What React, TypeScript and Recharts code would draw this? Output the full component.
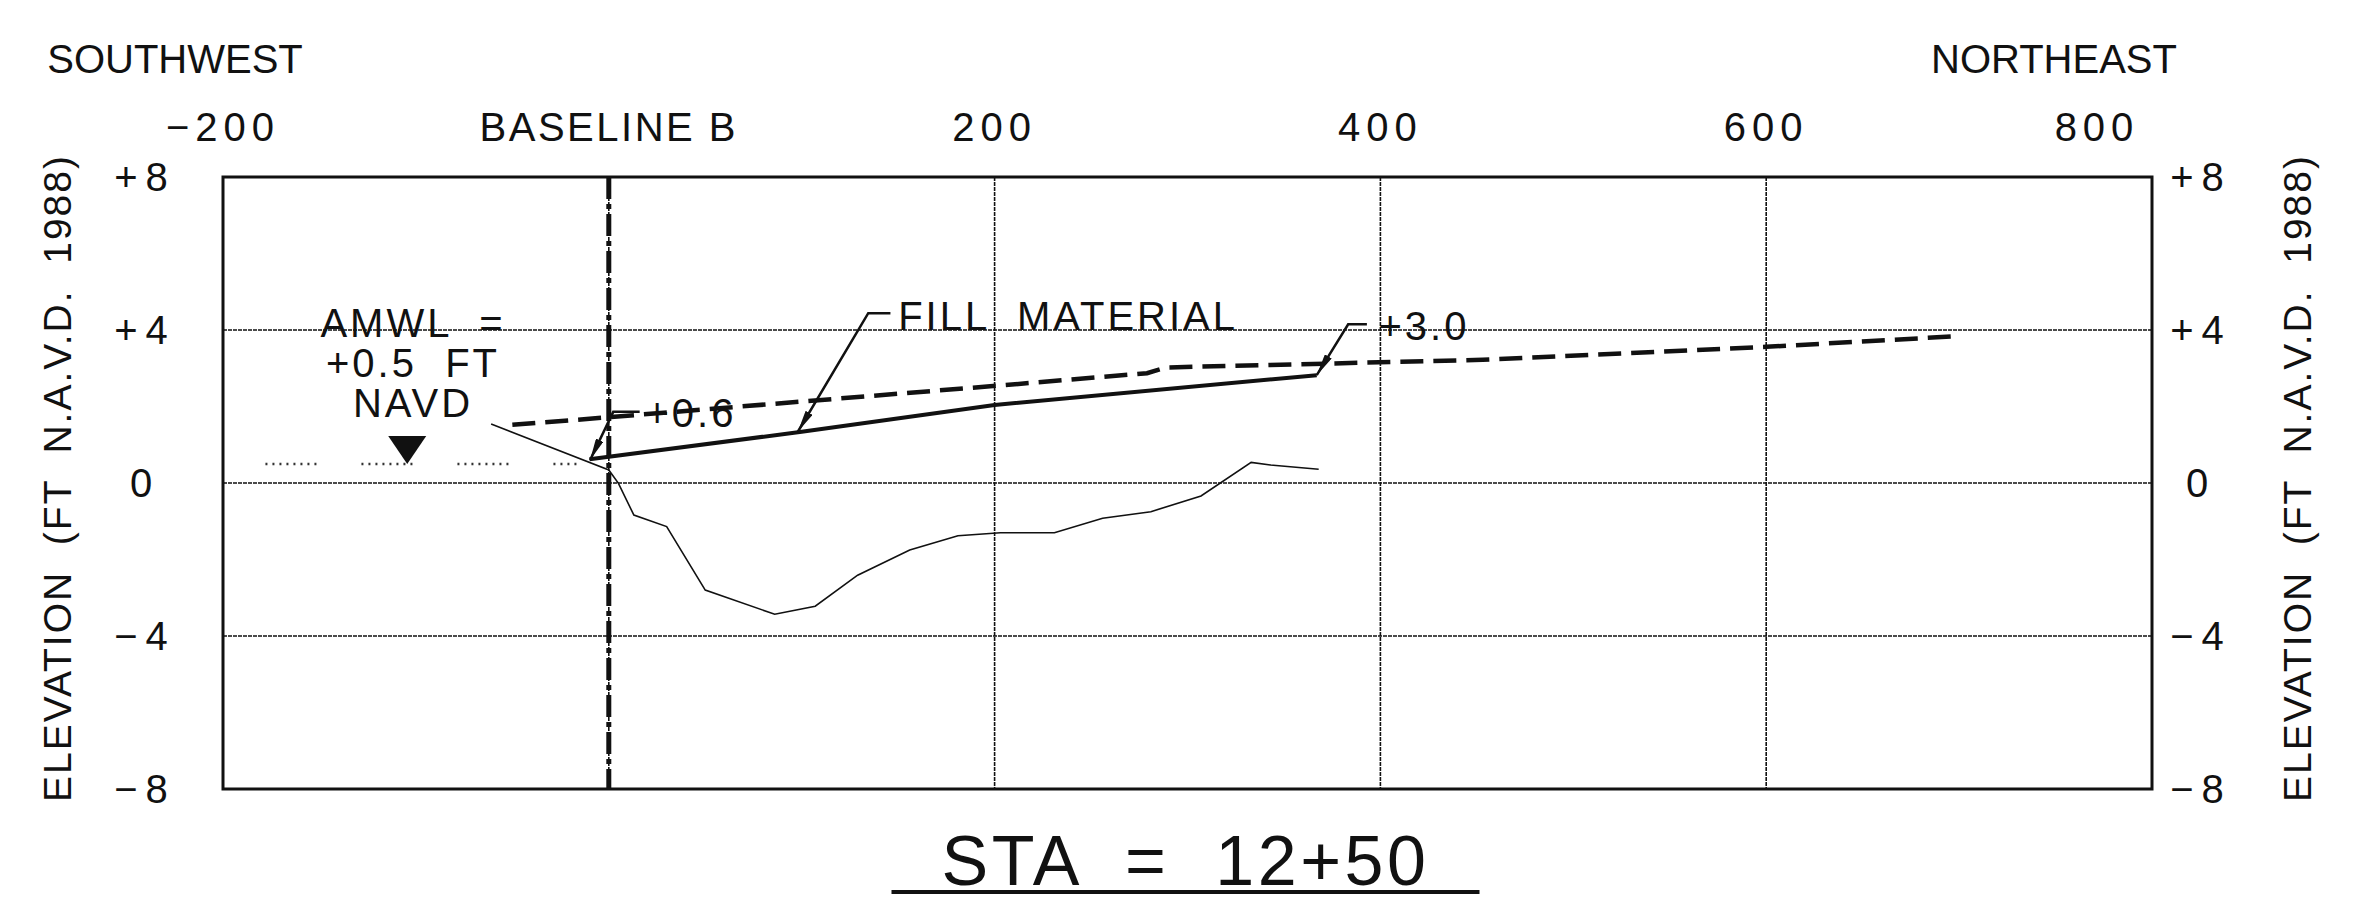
import {
  CartesianGrid,
  ComposedChart,
  Line,
  ReferenceArea,
  ReferenceLine,
  Scatter,
  XAxis,
  YAxis,
} from "recharts";

const CHART_WIDTH = 2356;
const CHART_HEIGHT = 902;
const FONT = '"Liberation Sans", Arial, sans-serif';
const INK = "#111";

// axes
const stationTicks = [-200, 0, 200, 400, 600, 800];
const stationLabels = ["−200", "BASELINE B", "200", "400", "600", "800"];
const elevationTicks = [-8, -4, 0, 4, 8];
const elevationLabels = ["−8", "−4", "0", "+4", "+8"];

// existing ground (thin line)
const groundStation = [-61, 0, 5, 13, 30, 50, 86, 107, 129, 156, 181, 203, 231, 256, 281, 307, 333, 343, 368];
const groundElevation = [1.54, 0.34, -0.01, -0.84, -1.14, -2.8, -3.43, -3.22, -2.41, -1.75, -1.38, -1.3, -1.3, -0.92, -0.75, -0.34, 0.54, 0.47, 0.36];

// fill material surface (solid)
const fillStation = [-10, 100, 200, 367];
const fillElevation = [0.62, 1.34, 2.04, 2.82];

// dashed profile
const dashedStation = [-50, 0, 203, 279, 289, 453, 600, 700];
const dashedElevation = [1.52, 1.72, 2.55, 2.87, 3.02, 3.22, 3.56, 3.84];

// AMWL water level
const amwlStation = [-178, -15];
const amwlElevation = [0.5, 0.5];
const amwlSymbolStation = [-104.5];
const amwlSymbolElevation = [0.5];

// AMWL note, stacked lines
const amwlNoteText = ["AMWL  =", "+0.5  FT", "NAVD"];
const amwlNoteStation = [-101.5, -101.5, -101.5];
const amwlNoteElevation = [3.82, 2.77, 1.73];

// callouts
const calloutText = ["+0.6", "FILL  MATERIAL", "+3.0"];
const calloutStation = [19, 150, 399];
const calloutElevation = [1.46, 4.0, 3.74];

const leader06Station = [-9.7, 2.3, 16];
const leader06Elevation = [0.6, 1.86, 1.86];
const leaderFillStation = [98, 134.5, 146];
const leaderFillElevation = [1.34, 4.44, 4.44];
const leader30Station = [367, 383.3, 393];
const leader30Elevation = [2.82, 4.15, 4.15];

const toPoints = (xs: number[], ys: number[]) => xs.map((x, i) => ({ x, y: ys[i] }));
const toNotes = (texts: string[], xs: number[], ys: number[]) =>
  texts.map((text, i) => ({ x: xs[i], y: ys[i], text }));

function TopTick({ x, y, payload }: any) {
  const i = stationTicks.indexOf(payload.value);
  const label = stationLabels[i] ?? String(payload.value);
  const isNumber = /\d/.test(label);
  const dx = payload.value === 800 ? -55 : 0;
  return (
    <text
      x={x + dx}
      y={y - 36}
      textAnchor="middle"
      fontFamily={FONT}
      fontSize={40}
      letterSpacing={isNumber ? 6 : 2.5}
      fill={INK}
    >
      {label}
    </text>
  );
}

function SideTick({ x, y, payload, side }: any) {
  const i = elevationTicks.indexOf(payload.value);
  const label = elevationLabels[i] ?? String(payload.value);
  const cx = side === "left" ? x - 78 : x + 49;
  return (
    <text
      x={cx}
      y={y}
      dy="0.36em"
      textAnchor="middle"
      fontFamily={FONT}
      fontSize={40}
      letterSpacing={8}
      fill={INK}
    >
      {label}
    </text>
  );
}

function ElevationTitle({ viewBox, side }: any) {
  const cx = side === "left" ? viewBox.x - 66 : viewBox.x + 145;
  const cy = viewBox.y + viewBox.height / 2 - 5;
  return (
    <text
      x={cx}
      y={cy}
      dy="0.36em"
      transform={`rotate(-90 ${cx} ${cy})`}
      textAnchor="middle"
      fontFamily={FONT}
      fontSize={39}
      letterSpacing={2}
      fill={INK}
      style={{ whiteSpace: "pre" }}
    >
      {"ELEVATION  (FT  N.A.V.D.  1988)"}
    </text>
  );
}

function DirectionTitles({ viewBox }: any) {
  return (
    <g fontFamily={FONT} fontSize={40} fill={INK}>
      <text x={viewBox.x - 48} y={viewBox.y - 44} textAnchor="middle">
        SOUTHWEST
      </text>
      <text x={viewBox.x + viewBox.width - 98} y={viewBox.y - 44} textAnchor="middle">
        NORTHEAST
      </text>
    </g>
  );
}

function StationTitle({ viewBox }: any) {
  const cx = viewBox.x + viewBox.width / 2 - 2;
  return (
    <g>
      <text
        x={cx}
        y={viewBox.y + 96}
        textAnchor="middle"
        fontFamily={FONT}
        fontSize={70}
        letterSpacing={3.5}
        fill={INK}
        style={{ whiteSpace: "pre" }}
      >
        {"STA  =  12+50"}
      </text>
      <line x1={cx - 294} x2={cx + 294} y1={viewBox.y + 103} y2={viewBox.y + 103} stroke={INK} strokeWidth={4} />
    </g>
  );
}

function NoteShape({ cx, cy, payload, anchor }: any) {
  return (
    <text
      x={cx}
      y={cy}
      textAnchor={anchor}
      fontFamily={FONT}
      fontSize={40}
      letterSpacing={3}
      fill={INK}
      style={{ whiteSpace: "pre" }}
    >
      {payload.text}
    </text>
  );
}

function WaterSymbol({ cx, cy }: any) {
  return <path d={`M${cx - 19},${cy - 28} L${cx + 19},${cy - 28} L${cx},${cy} Z`} fill={INK} />;
}

export default function App() {
  return (
    <div
      style={{
        position: "absolute",
        left: 0,
        top: 0,
        width: CHART_WIDTH,
        height: CHART_HEIGHT,
        background: "#fff",
      }}
    >
      <svg width={0} height={0} style={{ position: "absolute" }}>
        <defs>
          <marker
            id="leaderArrow"
            viewBox="0 0 22 8"
            refX={22}
            refY={4}
            markerWidth={22}
            markerHeight={8}
            markerUnits="userSpaceOnUse"
            orient="auto-start-reverse"
          >
            <path d="M0,0 L22,4 L0,8 Z" fill={INK} />
          </marker>
        </defs>
      </svg>
      <ComposedChart
        width={CHART_WIDTH}
        height={CHART_HEIGHT}
        margin={{ top: 117, right: 104, bottom: 13, left: 123 }}
      >
        <CartesianGrid stroke={INK} strokeWidth={1.6} strokeDasharray="4 1" />
        <XAxis
          dataKey="x"
          type="number"
          orientation="top"
          domain={[-200, 800]}
          ticks={stationTicks}
          height={60}
          axisLine={false}
          tickLine={false}
          tickSize={0}
          tickMargin={0}
          interval={0}
          tick={(p: any) => <TopTick {...p} />}
          label={(p: any) => <DirectionTitles {...p} />}
          allowDataOverflow
        />
        <XAxis
          xAxisId="bottom"
          dataKey="x"
          type="number"
          orientation="bottom"
          domain={[-200, 800]}
          height={100}
          axisLine={false}
          tickLine={false}
          tick={false}
          label={(p: any) => <StationTitle {...p} />}
        />
        <YAxis
          dataKey="y"
          type="number"
          domain={[-8, 8]}
          ticks={elevationTicks}
          width={100}
          axisLine={false}
          tickLine={false}
          tickSize={0}
          tickMargin={0}
          interval={0}
          tick={(p: any) => <SideTick {...p} side="left" />}
          label={(p: any) => <ElevationTitle {...p} side="left" />}
          allowDataOverflow
        />
        <YAxis
          yAxisId="right"
          orientation="right"
          dataKey="y"
          type="number"
          domain={[-8, 8]}
          ticks={elevationTicks}
          width={100}
          axisLine={false}
          tickLine={false}
          tickSize={0}
          tickMargin={0}
          interval={0}
          tick={(p: any) => <SideTick {...p} side="right" />}
          label={(p: any) => <ElevationTitle {...p} side="right" />}
          allowDataOverflow
        />
        <ReferenceArea x1={-200} x2={800} y1={-8} y2={8} fill="none" fillOpacity={0} stroke={INK} strokeWidth={3} />
        <ReferenceLine x={0} stroke={INK} strokeWidth={5} strokeDasharray="22 5 5 5" />

        <Line
          data={toPoints(amwlStation, amwlElevation)}
          dataKey="y"
          stroke="#333"
          strokeWidth={2.5}
          strokeDasharray="2 5 2 5 2 5 2 5 2 5 2 5 2 5 2 45"
          dot={false}
          isAnimationActive={false}
        />
        <Line
          data={toPoints(groundStation, groundElevation)}
          dataKey="y"
          stroke={INK}
          strokeWidth={1.6}
          dot={false}
          isAnimationActive={false}
        />
        <Line
          data={toPoints(fillStation, fillElevation)}
          dataKey="y"
          stroke={INK}
          strokeWidth={4}
          dot={false}
          isAnimationActive={false}
        />
        <Line
          data={toPoints(dashedStation, dashedElevation)}
          dataKey="y"
          stroke={INK}
          strokeWidth={4.5}
          strokeDasharray="23 10"
          dot={false}
          isAnimationActive={false}
        />
        {[
          toPoints(leader06Station, leader06Elevation),
          toPoints(leaderFillStation, leaderFillElevation),
          toPoints(leader30Station, leader30Elevation),
        ].map((pts, i) => (
          <Line
            key={`leader-${i}`}
            data={pts}
            dataKey="y"
            stroke={INK}
            strokeWidth={2.5}
            markerStart="url(#leaderArrow)"
            dot={false}
            isAnimationActive={false}
          />
        ))}
        <Scatter
          data={toPoints(amwlSymbolStation, amwlSymbolElevation)}
          dataKey="y"
          shape={(p: any) => <WaterSymbol {...p} />}
          isAnimationActive={false}
        />
        <Scatter
          data={toNotes(amwlNoteText, amwlNoteStation, amwlNoteElevation)}
          dataKey="y"
          shape={(p: any) => <NoteShape {...p} anchor="middle" />}
          isAnimationActive={false}
        />
        <Scatter
          data={toNotes(calloutText, calloutStation, calloutElevation)}
          dataKey="y"
          shape={(p: any) => <NoteShape {...p} anchor="start" />}
          isAnimationActive={false}
        />
      </ComposedChart>
    </div>
  );
}
